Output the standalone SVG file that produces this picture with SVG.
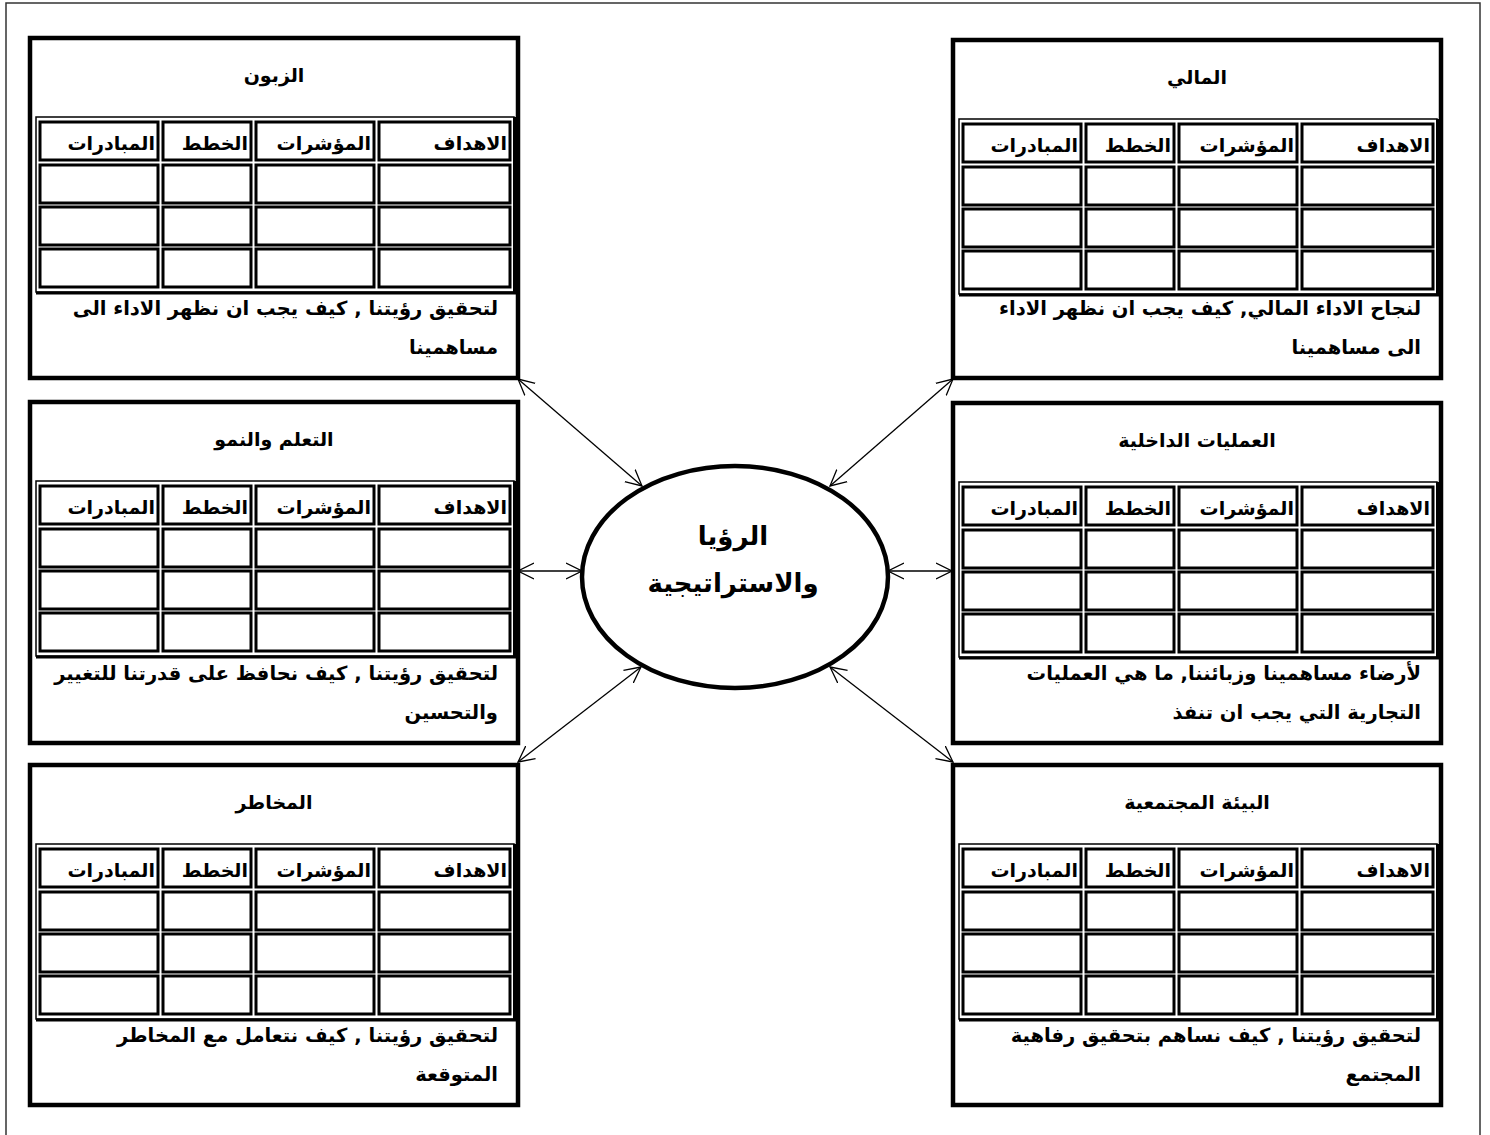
<svg xmlns="http://www.w3.org/2000/svg" xmlns:xlink="http://www.w3.org/1999/xlink" width="1490" height="1135" viewBox="0 0 1490 1135">
<style>
.frame{fill:none;stroke:#333;stroke-width:1.5}
.box{fill:#fff;stroke:#000;stroke-width:4.5}
.cell{fill:none;stroke:#000;stroke-width:3}
.tout{fill:none;stroke:#000;stroke-width:1.5}
.tthick{stroke:#000;stroke-width:3;fill:none}
text{font-family:"DejaVu Sans","Liberation Sans",sans-serif;font-weight:bold;fill:#000}
.title{font-size:19px;text-anchor:middle}
.hd{font-size:19px;text-anchor:end}
.desc{font-size:19.5px;text-anchor:end}
.center{font-size:26px;text-anchor:middle}
.conn{stroke:#000;stroke-width:1.3;fill:none;marker-start:url(#ah);marker-end:url(#ah)}
</style>
<defs>
<marker id="ah" viewBox="0 0 17 18" refX="16" refY="9" markerWidth="17" markerHeight="18" markerUnits="userSpaceOnUse" orient="auto-start-reverse">
<path d="M0,1 L16,9 L0,17" fill="none" stroke="#000" stroke-width="1.3"/>
</marker>
<g id="grid">
<rect class="tout" x="6" y="79" width="478" height="175"/>
<path class="tthick" d="M484.5,79 V255 H6"/>
<rect class="cell" x="10" y="84" width="118" height="38"/>
<rect class="cell" x="133" y="84" width="88" height="38"/>
<rect class="cell" x="226" y="84" width="118" height="38"/>
<rect class="cell" x="349" y="84" width="131" height="38"/>
<rect class="cell" x="10" y="127" width="118" height="38"/>
<rect class="cell" x="133" y="127" width="88" height="38"/>
<rect class="cell" x="226" y="127" width="118" height="38"/>
<rect class="cell" x="349" y="127" width="131" height="38"/>
<rect class="cell" x="10" y="169" width="118" height="38"/>
<rect class="cell" x="133" y="169" width="88" height="38"/>
<rect class="cell" x="226" y="169" width="118" height="38"/>
<rect class="cell" x="349" y="169" width="131" height="38"/>
<rect class="cell" x="10" y="211" width="118" height="38"/>
<rect class="cell" x="133" y="211" width="88" height="38"/>
<rect class="cell" x="226" y="211" width="118" height="38"/>
<rect class="cell" x="349" y="211" width="131" height="38"/>
</g>
</defs>
<rect x="0" y="0" width="1490" height="1135" fill="#fff"/>
<rect class="frame" x="6" y="3" width="1474" height="1140"/>

<g id="connectors">
<line class="conn" x1="518" y1="379" x2="642" y2="486"/>
<line class="conn" x1="953" y1="379" x2="830" y2="486"/>
<line class="conn" x1="518" y1="571" x2="582" y2="571"/>
<line class="conn" x1="888" y1="571" x2="952" y2="571"/>
<line class="conn" x1="641" y1="667" x2="518" y2="762"/>
<line class="conn" x1="830" y1="667" x2="953" y2="762"/>
</g>

<g id="customer">
<rect class="box" x="30" y="38" width="488" height="340"/>
<use xlink:href="#grid" x="30" y="38"/>
<text class="title" x="274" y="82">الزبون</text>
<text class="hd" x="507" y="150">الاهداف</text>
<text class="hd" x="371" y="150">المؤشرات</text>
<text class="hd" x="248" y="150">الخطط</text>
<text class="hd" x="155" y="150">المبادرات</text>
<text class="desc" x="498" y="315">لتحقيق رؤيتنا , كيف يجب ان نظهر الاداء الى</text>
<text class="desc" x="498" y="354">مساهمينا</text>
</g>

<g id="learning">
<rect class="box" x="30" y="402" width="488" height="341"/>
<use xlink:href="#grid" x="30" y="402"/>
<text class="title" x="274" y="446">التعلم والنمو</text>
<text class="hd" x="507" y="514">الاهداف</text>
<text class="hd" x="371" y="514">المؤشرات</text>
<text class="hd" x="248" y="514">الخطط</text>
<text class="hd" x="155" y="514">المبادرات</text>
<text class="desc" x="498" y="680">لتحقيق رؤيتنا , كيف نحافظ على قدرتنا للتغيير</text>
<text class="desc" x="498" y="719">والتحسين</text>
</g>

<g id="risks">
<rect class="box" x="30" y="765" width="488" height="340"/>
<use xlink:href="#grid" x="30" y="765"/>
<text class="title" x="274" y="809">المخاطر</text>
<text class="hd" x="507" y="877">الاهداف</text>
<text class="hd" x="371" y="877">المؤشرات</text>
<text class="hd" x="248" y="877">الخطط</text>
<text class="hd" x="155" y="877">المبادرات</text>
<text class="desc" x="498" y="1042">لتحقيق رؤيتنا , كيف نتعامل مع المخاطر</text>
<text class="desc" x="498" y="1081">المتوقعة</text>
</g>

<g id="financial">
<rect class="box" x="953" y="40" width="488" height="338"/>
<use xlink:href="#grid" x="953" y="40"/>
<text class="title" x="1197" y="84">المالي</text>
<text class="hd" x="1430" y="152">الاهداف</text>
<text class="hd" x="1294" y="152">المؤشرات</text>
<text class="hd" x="1171" y="152">الخطط</text>
<text class="hd" x="1078" y="152">المبادرات</text>
<text class="desc" x="1421" y="315">لنجاح الاداء المالي, كيف يجب ان نظهر الاداء</text>
<text class="desc" x="1421" y="354">الى مساهمينا</text>
</g>

<g id="internal">
<rect class="box" x="953" y="403" width="488" height="340"/>
<use xlink:href="#grid" x="953" y="403"/>
<text class="title" x="1197" y="447">العمليات الداخلية</text>
<text class="hd" x="1430" y="515">الاهداف</text>
<text class="hd" x="1294" y="515">المؤشرات</text>
<text class="hd" x="1171" y="515">الخطط</text>
<text class="hd" x="1078" y="515">المبادرات</text>
<text class="desc" x="1421" y="680">لأرضاء مساهمينا وزبائننا, ما هي العمليات</text>
<text class="desc" x="1421" y="719">التجارية التي يجب ان تنفذ</text>
</g>

<g id="community">
<rect class="box" x="953" y="765" width="488" height="340"/>
<use xlink:href="#grid" x="953" y="765"/>
<text class="title" x="1197" y="809">البيئة المجتمعية</text>
<text class="hd" x="1430" y="877">الاهداف</text>
<text class="hd" x="1294" y="877">المؤشرات</text>
<text class="hd" x="1171" y="877">الخطط</text>
<text class="hd" x="1078" y="877">المبادرات</text>
<text class="desc" x="1421" y="1042">لتحقيق رؤيتنا , كيف نساهم بتحقيق رفاهية</text>
<text class="desc" x="1421" y="1081">المجتمع</text>
</g>

<g id="vision">
<ellipse cx="735" cy="577" rx="153" ry="111" fill="#fff" stroke="#000" stroke-width="4.5"/>
<text class="center" x="733" y="545">الرؤيا</text>
<text class="center" x="733" y="592">والاستراتيجية</text>
</g>
</svg>
